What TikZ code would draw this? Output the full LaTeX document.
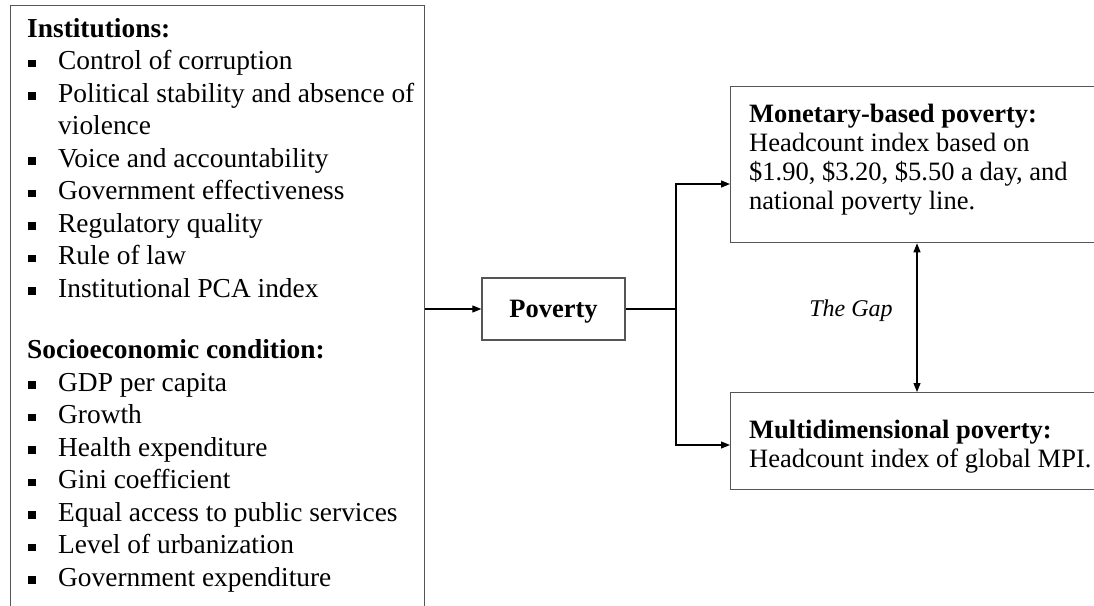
\documentclass[tikz,border=0pt]{standalone}
\usepackage{fontspec}
\setmainfont{Liberation Serif}
\usetikzlibrary{arrows.meta}
\definecolor{boxgray}{RGB}{85,85,85}
\newcommand\bul{\hspace*{1pt}\makebox[30pt][l]{\rule[2.5pt]{7.5pt}{7.5pt}}}
\begin{document}
\begin{tikzpicture}[x=1pt,y=-1pt,
  box/.style={draw=boxgray,line width=1.3pt,inner sep=0pt,anchor=north west},
  txt/.style={inner sep=0pt,anchor=north west,align=left,font=\fontsize{27.4}{32.5}\selectfont},
  rtxt/.style={inner sep=0pt,anchor=north west,align=left,font=\fontsize{26.5}{29}\selectfont},
  conn/.style={line width=1.1pt,black},
  arr/.style={conn,-{Triangle[length=9pt,width=7pt]}},
  darr/.style={conn,{Triangle[length=9pt,width=7pt]}-{Triangle[length=9pt,width=7pt]}}]
\useasboundingbox (0,0) rectangle (1094,605);
\clip (0,0) rectangle (1094,605);
\fill[white] (0,0) rectangle (1094,605);
% left box
\node[box,minimum width=414pt,minimum height=640pt] (leftbox) at (10,5) {};
\node[txt] (lefttxt) at (27,17) {\rule{0pt}{20pt}\textbf{Institutions:}\\
\bul Control of corruption\\
\bul Political stability and absence of\\
\hspace*{31pt}violence\\
\bul Voice and accountability\\
\bul Government effectiveness\\
\bul Regulatory quality\\
\bul Rule of law\\
\bul Institutional PCA index\\[29pt]
\textbf{Socioeconomic condition:}\\
\bul GDP per capita\\
\bul Growth\\
\bul Health expenditure\\
\bul Gini coefficient\\
\bul Equal access to public services\\
\bul Level of urbanization\\
\bul Government expenditure};
% poverty
\node[draw=boxgray,line width=1.3pt,minimum width=143pt,minimum height=62pt,inner sep=0pt,
  font=\fontsize{26.5}{30}\selectfont\bfseries,text height=17.5pt,text depth=0pt] (pov) at (553.5,309) {Poverty};
% right boxes
\node[box,minimum width=420pt,minimum height=156pt] (mon) at (730,86) {};
\node[rtxt] (montxt) at (749,102) {\rule{0pt}{20pt}\textbf{Monetary-based poverty:}\\
Headcount index based on\\
\$1.90, \$3.20, \$5.50 a day, and\\
national poverty line.};
\node[box,minimum width=420pt,minimum height=97pt] (multi) at (730,392) {};
\node[rtxt] (multitxt) at (749,418) {\rule{0pt}{20pt}\textbf{Multidimensional poverty:}\\
Headcount index of global MPI.};
% gap label
\node[inner sep=0pt,font=\fontsize{24}{28}\selectfont\itshape,text height=16pt,text depth=0pt] (gap) at (851,308) {The Gap};
% connectors
\coordinate (split) at (676,309);
\coordinate (mt) at (730,184);
\coordinate (mb) at (730,445);
\coordinate (gx) at (917,300);
\draw[arr] (pov.west -| leftbox.east) -- (pov.west);
\draw[conn] (pov.east) -- (split);
\draw[arr] (split) |- (mt);
\draw[arr] (split) |- (mb);
\draw[darr] (mon.south -| gx) -- (multi.north -| gx);
\end{tikzpicture}
\end{document}
